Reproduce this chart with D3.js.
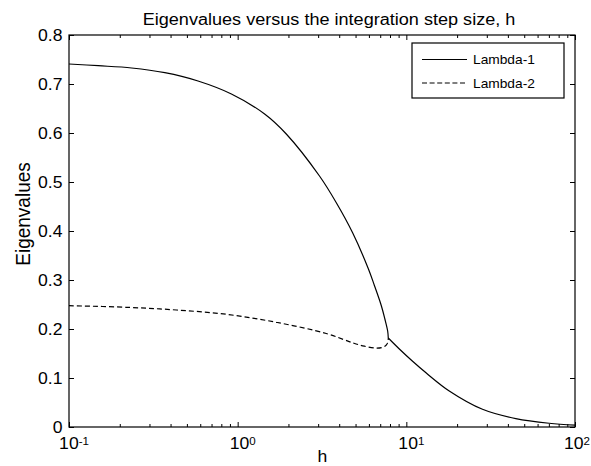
<!DOCTYPE html>
<html>
<head>
<meta charset="utf-8">
<script src="https://cdn.jsdelivr.net/npm/d3@7"></script>
<style>
  html, body { margin: 0; padding: 0; background: #fff; }
  svg { display: block; }
  text { font-family: "Liberation Sans", Arial, Helvetica, sans-serif; fill: #000; }
</style>
</head>
<body>
<svg id="chart" width="591" height="466"></svg>
<script>
// ---- data ----
// Lambda-1 over the whole range of h
const h1 = [0.1, 0.149, 0.235, 0.370, 0.582, 0.918, 1.445, 1.942, 3.056, 3.837, 4.811, 5.961, 6.467, 7.086, 7.461, 7.750, 7.816,
            9.09, 10.85, 13.08, 17.97, 28.28, 44.58, 70.19, 100];
const lambda1 = [0.7408, 0.7373, 0.7327, 0.7231, 0.7061, 0.6796, 0.6388, 0.5980, 0.5122, 0.4582, 0.3959, 0.3224, 0.2888, 0.2490, 0.2204, 0.1959, 0.1816,
                 0.1592, 0.1347, 0.1106, 0.0735, 0.0361, 0.0171, 0.0076, 0.0039];
// Lambda-2 up to the point where both eigenvalues meet (beyond it they coincide with Lambda-1)
const h2 = [0.1, 0.2195, 0.4337, 0.8572, 1.694, 3.350, 4.811, 5.643, 6.616, 7.211, 7.563, 7.771, 7.816];
const lambda2 = [0.2476, 0.2443, 0.2388, 0.2300, 0.2137, 0.1908, 0.1718, 0.1649, 0.1610, 0.1624, 0.1663, 0.1729, 0.1816];
const hJunction = 7.816;
const seriesNames = ["Lambda-1", "Lambda-2"];
const yTickValues = [0, 0.1, 0.2, 0.3, 0.4, 0.5, 0.6, 0.7, 0.8];
const yTickLabels = ["0", "0.1", "0.2", "0.3", "0.4", "0.5", "0.6", "0.7", "0.8"];
const xTickExponents = [-1, 0, 1, 2];
const titleText = "Eigenvalues versus the integration step size, h";
const xLabelText = "h";
const yLabelText = "Eigenvalues";

// ---- layout ----
const W = 591, L = 69, R = 575, T = 35, B = 427;
const SX = 1.1; // horizontal glyph stretch seen in the reference

const svg = d3.select("#chart");
const x = d3.scaleLog().domain([0.1, 100]).range([L, R]);
const y = d3.scaleLinear().domain([0, 0.8]).range([B, T]);

const majorX = xTickExponents.map(e => Math.pow(10, e));
const minorX = [];
for (let e = -1; e < 2; e++) for (let m = 2; m <= 9; m++) minorX.push(m * Math.pow(10, e));

// ---- curves ----
const line = d3.line().x(d => x(d[0])).y(d => y(d[1])).curve(d3.curveCatmullRom.alpha(0.5));
const pts1 = h1.map((h, i) => [h, lambda1[i]]);
const pts2 = h2.map((h, i) => [h, lambda2[i]]);
const pts1a = pts1.filter(d => d[0] <= hJunction);
const pts1b = pts1.filter(d => d[0] >= hJunction);

svg.append("path").attr("d", line(pts2))
  .attr("fill", "none").attr("stroke", "#000").attr("stroke-width", 1.2)
  .attr("stroke-dasharray", "5,3");
[pts1a, pts1b].forEach(p => {
  svg.append("path").attr("d", line(p))
    .attr("fill", "none").attr("stroke", "#000").attr("stroke-width", 1.2)
    .attr("stroke-linejoin", "round");
});

// ---- axes (ticks inward) ----
function axisG(axis, tx, ty) {
  const g = svg.append("g").attr("transform", `translate(${tx},${ty})`).call(axis);
  g.select(".domain").remove();
  g.selectAll("line").attr("stroke", "#000").attr("stroke-width", 1);
  return g;
}
axisG(d3.axisBottom(x).tickValues(majorX).tickSize(-5).tickFormat(""), 0, B);
axisG(d3.axisBottom(x).tickValues(minorX).tickSize(-3).tickFormat(""), 0, B);
axisG(d3.axisTop(x).tickValues(majorX).tickSize(-5).tickFormat(""), 0, T);
axisG(d3.axisTop(x).tickValues(minorX).tickSize(-3).tickFormat(""), 0, T);
axisG(d3.axisRight(y).tickValues(yTickValues).tickSize(-5).tickFormat(""), R, 0);

const gl = axisG(d3.axisLeft(y).tickValues(yTickValues).tickSize(-5).tickPadding(6)
  .tickFormat((d, i) => yTickLabels[i]), L, 0);
gl.selectAll("text")
  .attr("font-size", 16)
  .attr("font-family", "Liberation Sans, Arial, sans-serif")
  .attr("fill", "#000")
  .attr("transform", `scale(${SX},1)`);

// frame
svg.append("rect").attr("x", L).attr("y", T).attr("width", R - L).attr("height", B - T)
  .attr("fill", "none").attr("stroke", "#000").attr("stroke-width", 1.2);

// x tick labels 10^e (kept inside the page)
xTickExponents.forEach(e => {
  let cx = x(Math.pow(10, e)) + 5;
  const t = svg.append("text")
    .attr("text-anchor", "middle")
    .attr("font-size", 16);
  t.append("tspan").text("10");
  t.append("tspan").attr("font-size", 10.5).attr("dy", -4.5).text(String(e));
  const w = t.node().getComputedTextLength() * SX;
  if (cx + w / 2 > W - 1) cx = W - 1 - w / 2;
  t.attr("transform", `translate(${cx},449) scale(${SX},1)`);
});

// title & labels
svg.append("text").attr("transform", `translate(329,25) scale(1.13,1)`)
  .attr("text-anchor", "middle").attr("font-size", 16).text(titleText);
svg.append("text").attr("transform", `translate(322.5,462) scale(${SX},1)`)
  .attr("text-anchor", "middle").attr("font-size", 16).text(xLabelText);
svg.append("text").attr("transform", `translate(30,214) scale(${SX},1) rotate(-90)`)
  .attr("text-anchor", "middle").attr("font-size", 19).text(yLabelText);

// legend
const lg = svg.append("g");
lg.append("rect").attr("x", 412).attr("y", 43).attr("width", 152).attr("height", 55)
  .attr("fill", "#fff").attr("stroke", "#000").attr("stroke-width", 1.2);
seriesNames.forEach((name, i) => {
  const cy = 59.5 + i * 23.5;
  lg.append("line").attr("x1", 422).attr("x2", 467).attr("y1", cy).attr("y2", cy)
    .attr("stroke", "#000").attr("stroke-width", 1.2)
    .attr("stroke-dasharray", i === 1 ? "5,2.6" : null);
  lg.append("text").attr("transform", `translate(473,${cy + 4.5}) scale(${SX},1)`)
    .attr("font-size", 12.5).text(name);
});
</script>
</body>
</html>
